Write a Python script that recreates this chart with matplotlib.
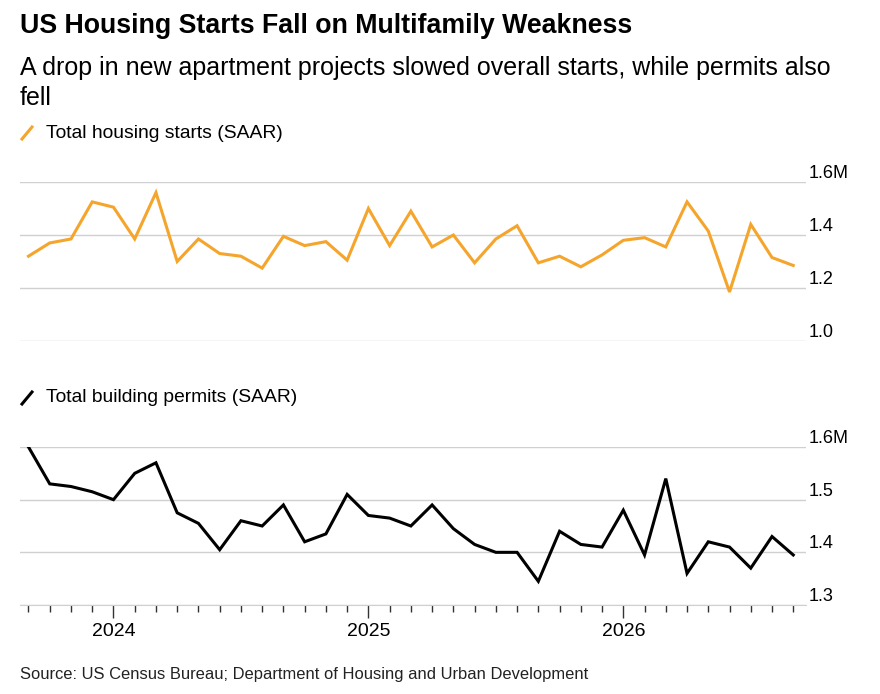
import matplotlib.pyplot as plt
import numpy as np

months = np.arange(37)  # Sep 2023 .. Sep 2026
year_idx = [4, 16, 28]
year_labels = ["2024", "2025", "2026"]

starts = [1.32, 1.37, 1.385, 1.525, 1.505, 1.385, 1.56, 1.30, 1.385, 1.33,
          1.32, 1.275, 1.395, 1.36, 1.375, 1.305, 1.50, 1.36, 1.49, 1.355,
          1.40, 1.295, 1.385, 1.435, 1.295, 1.32, 1.28, 1.325, 1.38, 1.39,
          1.355, 1.525, 1.415, 1.185, 1.44, 1.315, 1.285]
permits = [1.60, 1.53, 1.525, 1.515, 1.50, 1.55, 1.57, 1.475, 1.455, 1.405,
           1.46, 1.45, 1.49, 1.42, 1.435, 1.51, 1.47, 1.465, 1.45, 1.49,
           1.445, 1.415, 1.40, 1.40, 1.345, 1.44, 1.415, 1.41, 1.48, 1.395,
           1.54, 1.36, 1.42, 1.41, 1.37, 1.43, 1.395]

plt.rcParams['font.family'] = ['Liberation Sans', 'DejaVu Sans']

W, H = 880, 694
fig = plt.figure(figsize=(W / 100, H / 100), dpi=100)

def box(x0, y0, x1, y1):
    return [x0 / W, 1 - y1 / H, (x1 - x0) / W, (y1 - y0) / H]

ax1 = fig.add_axes(box(20, 182, 806, 341))
ax2 = fig.add_axes(box(20, 447, 806, 605))

for ax, data, color, ticks, labels, lim in [
        (ax1, starts, '#f5a52c', [1.0, 1.2, 1.4, 1.6], ["1.0", "1.2", "1.4", "1.6M"], (1.0, 1.6)),
        (ax2, permits, 'black', [1.3, 1.4, 1.5, 1.6], ["1.3", "1.4", "1.5", "1.6M"], (1.3, 1.6))]:
    ax.plot(months, data, color=color, lw=2.2, solid_joinstyle='miter')
    ax.set_xlim(-0.4, 36.6)
    ax.set_ylim(*lim)
    ax.set_yticks(ticks)
    ax.yaxis.tick_right()
    ax.set_yticklabels(labels, fontsize=13, va='bottom', ha='left')
    ax.tick_params(axis='y', length=0, pad=2)
    ax.grid(axis='y', color='#d0d0d0', lw=1)
    for s in ax.spines.values():
        s.set_visible(False)

ax1.set_xticks([])

ax2.spines['bottom'].set_visible(True)
ax2.spines['bottom'].set_color('#d0d0d0')
ax2.set_xticks(months, minor=True)
ax2.set_xticks(year_idx)
ax2.set_xticklabels(year_labels, fontsize=14)
ax2.tick_params(axis='x', which='minor', length=5, color='#333333', width=1)
ax2.tick_params(axis='x', which='major', length=9, color='#333333', width=1, pad=4)

fig.text(20 / W, 1 - 26 / H, "US Housing Starts Fall on Multifamily Weakness",
         fontsize=19.3, fontweight='bold', va='center')
fig.text(20 / W, 1 - 68 / H, "A drop in new apartment projects slowed overall starts, while permits also",
         fontsize=18, va='center')
fig.text(20 / W, 1 - 98 / H, "fell", fontsize=18, va='center')
for y, c, txt in [(133, '#f5a52c', "Total housing starts (SAAR)"),
                  (398, 'black', "Total building permits (SAAR)")]:
    fig.add_artist(plt.Line2D([22 / W, 32 / W], [1 - (y + 6) / H, 1 - (y - 6) / H],
                              color=c, lw=2.2))
    fig.text(46 / W, 1 - y / H, txt, fontsize=13.9, va='center')
fig.text(20 / W, 1 - 675 / H,
         "Source: US Census Bureau; Department of Housing and Urban Development",
         fontsize=11.9, va='center', color='#222222')

fig.savefig("out.png", dpi=100)
